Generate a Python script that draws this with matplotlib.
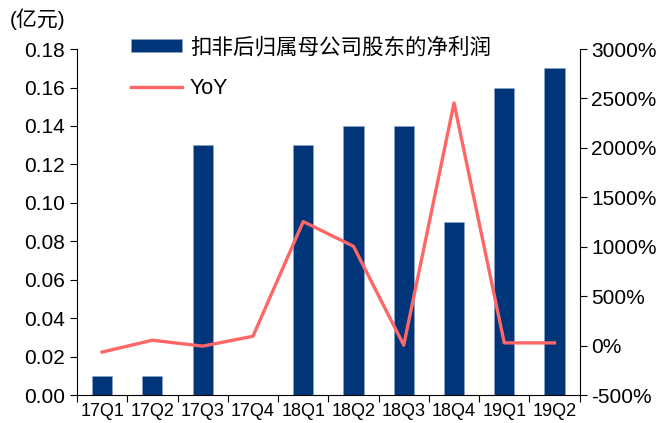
import matplotlib.pyplot as plt
import numpy as np

plt.rcParams['font.family'] = ['Liberation Sans', 'Noto Sans CJK SC', 'DejaVu Sans']

# data
quarters = ["17Q1", "17Q2", "17Q3", "17Q4", "18Q1", "18Q2", "18Q3", "18Q4", "19Q1", "19Q2"]
profit = [0.01, 0.01, 0.13, 0.0, 0.13, 0.14, 0.14, 0.09, 0.16, 0.17]  # 亿元
yoy = [-65, 55, -5, 95, 1255, 1005, 5, 2455, 28, 28]  # %

bar_color = "#003679"
line_color = "#FF6666"

fig = plt.figure(figsize=(6.64, 4.23), dpi=100)
ax = fig.add_axes([0.116, 0.066, 0.757, 0.818])
ax2 = ax.twinx()

x = np.arange(len(quarters))
ax.bar(x, profit, width=0.4, color=bar_color, edgecolor="#8fa6c8", linewidth=0.4,
       label="扣非后归属母公司股东的净利润", zorder=2)
ax2.plot(x, yoy, color=line_color, linewidth=2.4, label="YoY", zorder=3)

ax.set_xlim(-0.5, len(quarters) - 0.5)
ax.set_ylim(0, 0.18)
ax.set_yticks(np.arange(0, 0.181, 0.02))
ax.set_yticklabels([f"{v:.2f}" for v in np.arange(0, 0.181, 0.02)], fontsize=15)
ax2.set_ylim(-500, 3000)
ax2.set_yticks(np.arange(-500, 3001, 500))
ax2.set_yticklabels([f"{v}%" for v in range(-500, 3001, 500)], fontsize=15)

# category ticks sit between bars
ax.set_xticks(np.arange(-0.5, len(quarters), 1.0))
ax.set_xticklabels([])
ax.set_xticks(x, minor=True)
ax.set_xticklabels(quarters, minor=True, fontsize=13)
ax.tick_params(axis="x", which="minor", length=0, pad=6)
ax.tick_params(axis="x", which="major", length=5, direction="out")
ax.tick_params(axis="y", length=5, direction="out")
ax2.tick_params(axis="y", length=5, direction="out")

for a in (ax, ax2):
    a.spines["top"].set_visible(False)
ax.spines["right"].set_visible(False)
ax2.spines["left"].set_visible(False)
ax2.spines["bottom"].set_visible(False)

fig.text(0.015, 0.955, "(亿元)", fontsize=15, ha="left", va="center")

handles = ax.get_legend_handles_labels()[0] + ax2.get_legend_handles_labels()[0]
labels = ax.get_legend_handles_labels()[1] + ax2.get_legend_handles_labels()[1]
leg = fig.legend(handles, labels, loc="upper left", bbox_to_anchor=(0.197, 0.912),
                 frameon=False, fontsize=15.5, handlelength=2.4, handleheight=0.5,
                 labelspacing=0.9, handletextpad=0.35, borderpad=0, borderaxespad=0)

fig.savefig("out.png", dpi=100)
